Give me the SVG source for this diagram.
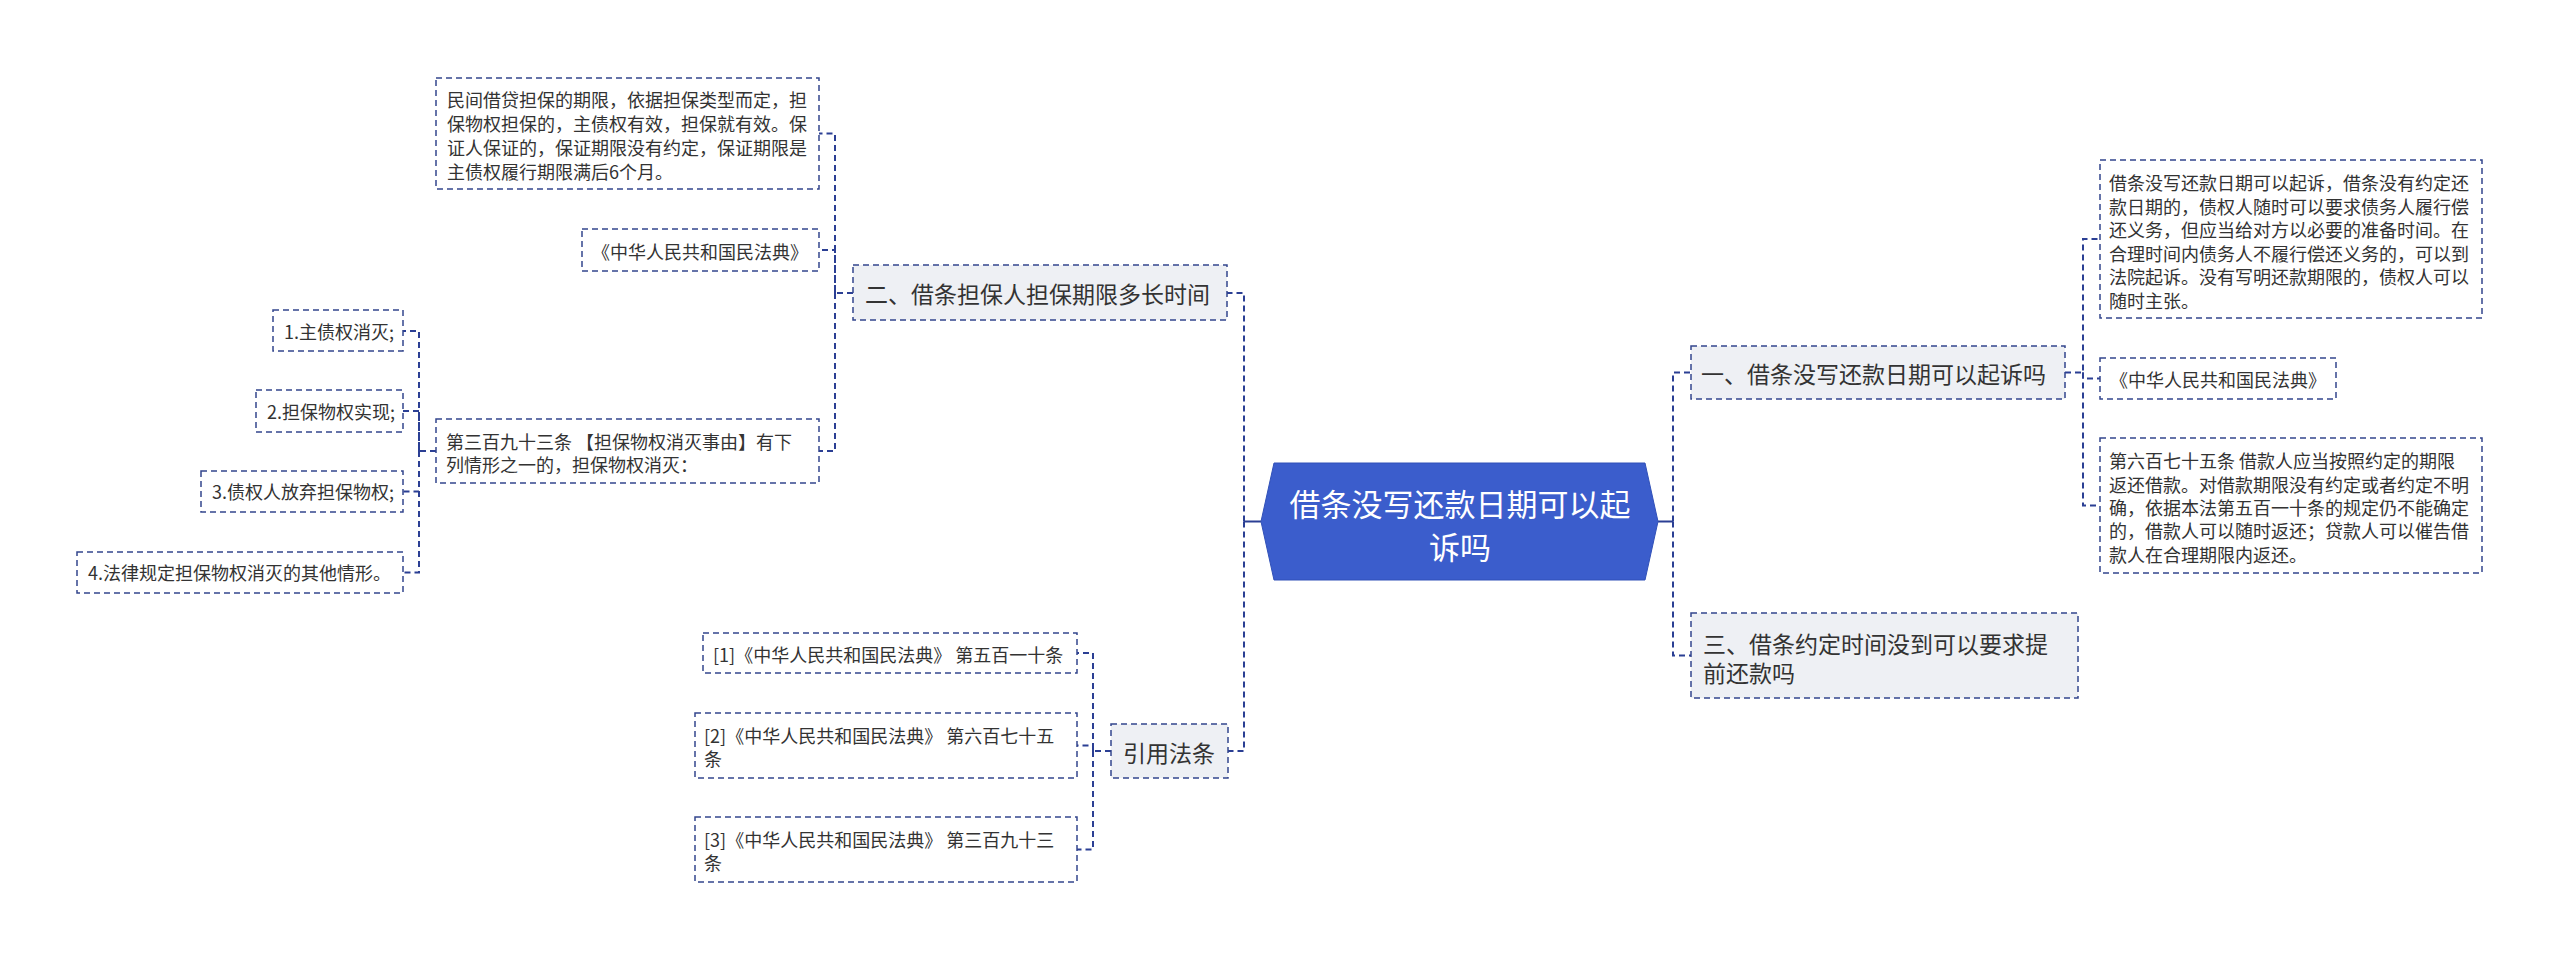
<svg xmlns="http://www.w3.org/2000/svg" width="2560" height="960" viewBox="0 0 2560 960">
<style>
text{font-family:"Noto Sans CJK SC","Noto Sans",sans-serif;fill:#333;dominant-baseline:central}
.t2{font-size:18px}
.t1{font-size:23px}
.tc{font-size:31px;fill:#fff;text-anchor:middle}
.box{fill:#fff;stroke:#33468d;stroke-width:1.5;stroke-dasharray:6 4}
.l1{fill:#eef0f4}
.conn{fill:none;stroke:#2b3f94;stroke-width:2;stroke-dasharray:6 4}
.solid{fill:none;stroke:#2b3f94;stroke-width:2}
</style>
<rect width="2560" height="960" fill="#fff"/>
<g id="connectors">
  <path class="solid" d="M1261 521.5H1244"/>
  <path class="solid" d="M1658 521.5H1673"/>
  <path class="conn" d="M1244 521.5V293H1227"/>
  <path class="conn" d="M1244 521.5V751H1228"/>
  <path class="conn" d="M1673 521.5V372.5H1691"/>
  <path class="conn" d="M1673 521.5V655.5H1691"/>
  <path class="conn" d="M853 293H835V133.5H819"/>
  <path class="conn" d="M835 293V250H819"/>
  <path class="conn" d="M835 293V451H819"/>
  <path class="conn" d="M436 451H419V331H403"/>
  <path class="conn" d="M419 451V411H403"/>
  <path class="conn" d="M419 451V491.5H403"/>
  <path class="conn" d="M419 451V572.5H403"/>
  <path class="conn" d="M1111 751H1093V653H1077"/>
  <path class="conn" d="M1093 751V745.5H1077"/>
  <path class="conn" d="M1093 751V849.5H1077"/>
  <path class="conn" d="M2065 372.5H2083V239H2100"/>
  <path class="conn" d="M2083 372.5V378.5H2100"/>
  <path class="conn" d="M2083 372.5V505.5H2100"/>
</g>
<g id="n-center">
  <polygon points="1261,521.5 1274,463 1645,463 1658,521.5 1645,580 1274,580" fill="#3b5dcc" stroke="#3050b8" stroke-width="1"/>
  <text class="tc" x="1460" y="502">借条没写还款日期可以起</text>
  <text class="tc" x="1460" y="545">诉吗</text>
</g>
<g id="n-2">
  <rect class="box l1" x="853" y="265" width="374" height="55"/>
  <text class="t1" x="865" y="293">二、借条担保人担保期限多长时间</text>
</g>
<g id="n-2a">
  <rect class="box" x="436" y="78" width="383" height="111"/>
  <text class="t2" x="447" y="99">民间借贷担保的期限，依据担保类型而定，担</text>
  <text class="t2" x="447" y="123">保物权担保的，主债权有效，担保就有效。保</text>
  <text class="t2" x="447" y="147">证人保证的，保证期限没有约定，保证期限是</text>
  <text class="t2" x="447" y="171">主债权履行期限满后6个月。</text>
</g>
<g id="n-2b">
  <rect class="box" x="582" y="229" width="237" height="42"/>
  <text class="t2" x="592" y="251">《中华人民共和国民法典》</text>
</g>
<g id="n-2c">
  <rect class="box" x="436" y="419" width="383" height="64"/>
  <text class="t2" x="446" y="441">第三百九十三条 【担保物权消灭事由】有下</text>
  <text class="t2" x="446" y="464">列情形之一的，担保物权消灭：</text>
</g>
<g id="n-2c1">
  <rect class="box" x="273" y="310" width="130" height="41"/>
  <text class="t2" x="284" y="331">1.主债权消灭;</text>
</g>
<g id="n-2c2">
  <rect class="box" x="256" y="390" width="147" height="42"/>
  <text class="t2" x="267" y="411">2.担保物权实现;</text>
</g>
<g id="n-2c3">
  <rect class="box" x="201" y="471" width="202" height="41"/>
  <text class="t2" x="212" y="491">3.债权人放弃担保物权;</text>
</g>
<g id="n-2c4">
  <rect class="box" x="77" y="552" width="326" height="41"/>
  <text class="t2" x="88" y="572">4.法律规定担保物权消灭的其他情形。</text>
</g>
<g id="n-ref">
  <rect class="box l1" x="1111" y="724" width="117" height="54"/>
  <text class="t1" x="1123" y="752">引用法条</text>
</g>
<g id="n-ref1">
  <rect class="box" x="703" y="633" width="374" height="40"/>
  <text class="t2" x="713" y="654">[1]《中华人民共和国民法典》 第五百一十条</text>
</g>
<g id="n-ref2">
  <rect class="box" x="695" y="713" width="382" height="65"/>
  <text class="t2" x="704" y="735">[2]《中华人民共和国民法典》 第六百七十五</text>
  <text class="t2" x="704" y="758">条</text>
</g>
<g id="n-ref3">
  <rect class="box" x="695" y="817" width="382" height="65"/>
  <text class="t2" x="704" y="839">[3]《中华人民共和国民法典》 第三百九十三</text>
  <text class="t2" x="704" y="862">条</text>
</g>
<g id="n-1">
  <rect class="box l1" x="1691" y="346" width="374" height="53"/>
  <text class="t1" x="1701" y="373">一、借条没写还款日期可以起诉吗</text>
</g>
<g id="n-1a">
  <rect class="box" x="2100" y="160" width="382" height="158"/>
  <text class="t2" x="2109" y="182">借条没写还款日期可以起诉，借条没有约定还</text>
  <text class="t2" x="2109" y="205.5">款日期的，债权人随时可以要求债务人履行偿</text>
  <text class="t2" x="2109" y="229">还义务，但应当给对方以必要的准备时间。在</text>
  <text class="t2" x="2109" y="252.5">合理时间内债务人不履行偿还义务的，可以到</text>
  <text class="t2" x="2109" y="276">法院起诉。没有写明还款期限的，债权人可以</text>
  <text class="t2" x="2109" y="299.5">随时主张。</text>
</g>
<g id="n-1b">
  <rect class="box" x="2100" y="358" width="236" height="41"/>
  <text class="t2" x="2110" y="379">《中华人民共和国民法典》</text>
</g>
<g id="n-1c">
  <rect class="box" x="2100" y="438" width="382" height="135"/>
  <text class="t2" x="2109" y="460">第六百七十五条 借款人应当按照约定的期限</text>
  <text class="t2" x="2109" y="483.5">返还借款。对借款期限没有约定或者约定不明</text>
  <text class="t2" x="2109" y="507">确，依据本法第五百一十条的规定仍不能确定</text>
  <text class="t2" x="2109" y="530">的，借款人可以随时返还；贷款人可以催告借</text>
  <text class="t2" x="2109" y="553.5">款人在合理期限内返还。</text>
</g>
<g id="n-3">
  <rect class="box l1" x="1691" y="613" width="387" height="85"/>
  <text class="t1" x="1703" y="643">三、借条约定时间没到可以要求提</text>
  <text class="t1" x="1703" y="672">前还款吗</text>
</g>
</svg>
